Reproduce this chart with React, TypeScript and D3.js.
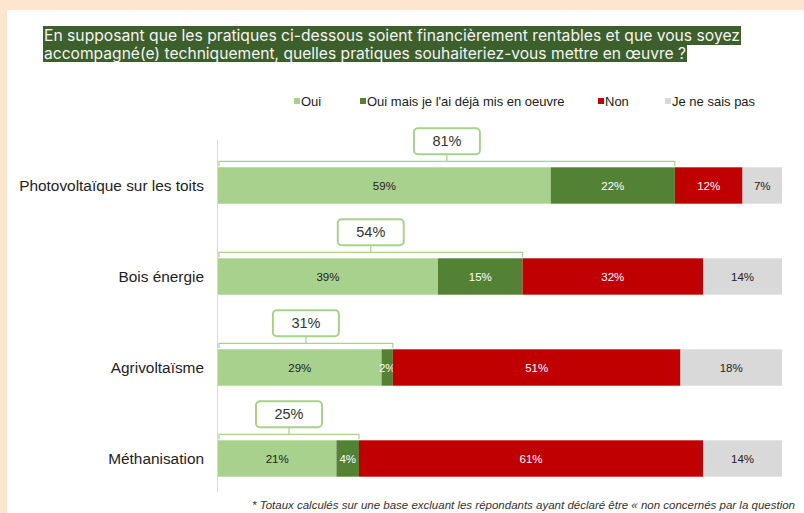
import React, { useEffect, useRef } from "react";
import * as d3 from "d3";

const categories = ["Photovoltaïque sur les toits", "Bois énergie", "Agrivoltaïsme", "Méthanisation"];
const seriesNames = ["Oui", "Oui mais je l'ai déjà mis en oeuvre", "Non", "Je ne sais pas"];
const oui = [59, 39, 29, 21];
const ouiMais = [22, 15, 2, 4];
const non = [12, 32, 51, 61];
const nsp = [7, 14, 18, 14];
const totals = [81, 54, 31, 25];
const titleLines = [
  "En supposant que les pratiques ci-dessous soient financièrement rentables et que vous soyez",
  "accompagné(e) techniquement, quelles pratiques souhaiteriez-vous mettre en œuvre ?",
];
const footnote = "* Totaux calculés sur une base excluant les répondants ayant déclaré être « non concernés par la question";

const colors = ["#a9d18e", "#548235", "#c00000", "#d9d9d9"];
const labelColors = ["#222222", "#ffffff", "#ffffff", "#222222"];

const W = 804;
const H = 513;

export default function App() {
  const ref = useRef<SVGSVGElement | null>(null);

  useEffect(() => {
    const svg = d3.select(ref.current);
    svg.selectAll("*").remove();

    // background frame
    svg.append("rect").attr("x", 0).attr("y", 0).attr("width", W).attr("height", H).attr("fill", "#fde5cf");
    svg.append("rect").attr("x", 7).attr("y", 10).attr("width", W - 7).attr("height", H - 10).attr("fill", "#ffffff");

    // title with highlight
    const titleWidths = [696, 642];
    const titleG = svg.append("g");
    titleLines.forEach((line, i) => {
      titleG
        .append("rect")
        .attr("x", 43)
        .attr("y", 26 + i * 18)
        .attr("width", titleWidths[i] + 2)
        .attr("height", i === 0 ? 19 : 18)
        .attr("fill", "#3d5f2b");
      titleG
        .append("text")
        .attr("x", 44)
        .attr("y", 41 + i * 18)
        .attr("font-family", "Inter, 'Noto Sans', sans-serif")
        .attr("font-size", 15.5)
        .attr("textLength", titleWidths[i])
        .attr("lengthAdjust", "spacingAndGlyphs")
        .attr("fill", "#f4f4f4")
        .text(line);
    });

    // legend
    const legendX = [294, 360, 598, 665];
    const lg = svg.append("g");
    seriesNames.forEach((name, i) => {
      lg.append("rect").attr("x", legendX[i]).attr("y", 98).attr("width", 6).attr("height", 6).attr("fill", colors[i]);
      lg.append("text")
        .attr("x", legendX[i] + 7)
        .attr("y", 106)
        .attr("font-family", "Arial, 'Liberation Sans', sans-serif")
        .attr("font-size", 13)
        .attr("fill", "#222")
        .text(name);
    });

    // scales
    const x = d3.scaleLinear().domain([0, 100]).range([218, 782]);
    const y = d3.scaleBand().domain(categories).range([140, 504]).paddingInner(0.6).paddingOuter(0.3);

    // axis line
    svg.append("line").attr("x1", 217.5).attr("x2", 217.5).attr("y1", 140).attr("y2", 492).attr("stroke", "#d9d9d9").attr("stroke-width", 1);

    // category labels
    categories.forEach((c) => {
      svg.append("text")
        .attr("x", 204)
        .attr("y", (y(c) as number) + y.bandwidth() / 2 + 5)
        .attr("text-anchor", "end")
        .attr("font-family", "Arial, 'Liberation Sans', sans-serif")
        .attr("font-size", 15.4)
        .attr("fill", "#222")
        .text(c);
    });

    const series = [oui, ouiMais, non, nsp];
    categories.forEach((c, ci) => {
      const y0 = y(c) as number;
      const bh = y.bandwidth();
      let acc = 0;
      series.forEach((s, si) => {
        const v = s[ci];
        const x0 = x(acc);
        const x1 = x(acc + v);
        svg.append("rect").attr("x", x0).attr("y", y0).attr("width", x1 - x0).attr("height", bh).attr("fill", colors[si]);
        svg.append("text")
          .attr("x", (x0 + x1) / 2)
          .attr("y", y0 + bh / 2 + 4)
          .attr("text-anchor", "middle")
          .attr("font-family", "Arial, 'Liberation Sans', sans-serif")
          .attr("font-size", 11.5)
          .attr("fill", labelColors[si])
          .text(`${v}%`);
        acc += v;
      });

      // bracket
      const bx0 = x(0) + 1;
      const bx1 = x(totals[ci]);
      const by = y0 - 6;
      const mid = (bx0 + bx1) / 2;
      svg.append("path")
        .attr("d", `M${bx0},${by + 5}V${by}H${bx1}V${by + 5}M${mid},${by}V${by - 7}`)
        .attr("fill", "none")
        .attr("stroke", "#a9d18e")
        .attr("stroke-width", 1.2);
      const bw = 66;
      const bhh = 26;
      svg.append("rect")
        .attr("x", mid - bw / 2)
        .attr("y", by - 7 - bhh)
        .attr("width", bw)
        .attr("height", bhh)
        .attr("rx", 4)
        .attr("fill", "#ffffff")
        .attr("stroke", "#a9d18e")
        .attr("stroke-width", 2);
      svg.append("text")
        .attr("x", mid)
        .attr("y", by - 7 - bhh / 2 + 5)
        .attr("text-anchor", "middle")
        .attr("font-family", "Arial, 'Liberation Sans', sans-serif")
        .attr("font-size", 14.5)
        .attr("fill", "#333")
        .text(`${totals[ci]}%`);
    });

    // footnote
    svg.append("text")
      .attr("x", 252)
      .attr("y", 509)
      .attr("font-family", "Arial, 'Liberation Sans', sans-serif")
      .attr("font-size", 11.5)
      .attr("font-style", "italic")
      .attr("fill", "#333")
      .text(footnote);
  }, []);

  return (
    <svg
      ref={ref}
      width={W}
      height={H}
      style={{ position: "absolute", left: 0, top: 0, display: "block" }}
    />
  );
}
